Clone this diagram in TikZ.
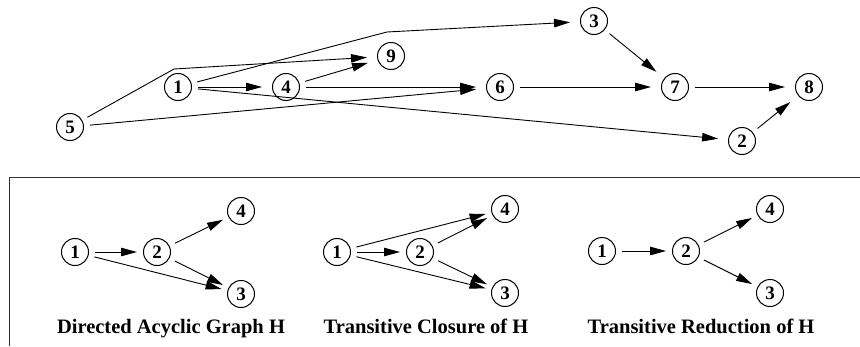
\documentclass[tikz,border=0pt]{standalone}
\usepackage{fontspec}
\setmainfont{Liberation Serif}
\usetikzlibrary{arrows.meta}
\begin{document}
\begin{tikzpicture}[x=1pt,y=-1pt,
  vtx/.style={circle,draw,line width=1pt,minimum size=27pt,inner sep=0pt,
              font=\bfseries\fontsize{19}{19}\selectfont},
  edge/.style={line width=0.9pt,-{Triangle[length=16pt,width=8.5pt]},
               shorten <=6pt,shorten >=10pt},
  sedge/.style={edge,shorten >=6pt},
  caption/.style={anchor=base,inner sep=0pt,font=\bfseries\fontsize{20.5}{20.5}\selectfont}]
\useasboundingbox (0,0) rectangle (860,346);

% upper graph
\node[vtx] (t5) at (70,127) {5};
\node[vtx] (t1) at (178,87) {1};
\node[vtx] (t4) at (286,87) {4};
\node[vtx] (t9) at (391,56) {9};
\node[vtx] (t6) at (500,87) {6};
\node[vtx] (t3) at (594,21) {3};
\node[vtx] (t7) at (675,87) {7};
\node[vtx] (t8) at (809,87) {8};
\node[vtx] (t2) at (742,141) {2};
\coordinate (b59) at (174,69);
\coordinate (b13) at (387,32);

\draw[edge] (t5) -- (b59) -- (t9);
\draw[edge] (t1) -- (b13) -- (t3);
\draw[edge] (t1) -- (t4);
\draw[edge] (t4) -- (t9);
\draw[edge] (t4) -- (t6);
\draw[edge] (t5) -- (t6);
\draw[edge] (t1) -- (t2);
\draw[edge] (t6) -- (t7);
\draw[edge] (t3) -- (t7);
\draw[edge] (t7) -- (t8);
\draw[edge] (t2) -- (t8);

% frame of the lower panel
\draw[line width=0.8pt,draw=black!80] (9,346) -- (9,177) -- (860,177);

% directed acyclic graph H
\node[vtx] (a1) at (75,252) {1};
\node[vtx] (a2) at (157,252) {2};
\node[vtx] (a4) at (241,211) {4};
\node[vtx] (a3) at (241,294) {3};
\draw[sedge] (a1) -- (a2);
\draw[sedge] (a2) -- (a4);
\draw[sedge] (a2) -- (a3);
\draw[sedge] (a1) -- (a3);
\node[caption] (ca) at (171,333) {Directed Acyclic Graph H};

% transitive closure of H
\node[vtx] (c1) at (337,252) {1};
\node[vtx] (c2) at (420,252) {2};
\node[vtx] (c4) at (505,209) {4};
\node[vtx] (c3) at (505,293) {3};
\draw[sedge] (c1) -- (c2);
\draw[sedge] (c1) -- (c4);
\draw[sedge] (c1) -- (c3);
\draw[sedge] (c2) -- (c4);
\draw[sedge] (c2) -- (c3);
\node[caption] (cc) at (426,333) {Transitive Closure of H};

% transitive reduction of H
\node[vtx] (r1) at (602,251) {1};
\node[vtx] (r2) at (686,251) {2};
\node[vtx] (r4) at (770,209) {4};
\node[vtx] (r3) at (770,293) {3};
\draw[sedge] (r1) -- (r2);
\draw[sedge] (r2) -- (r4);
\draw[sedge] (r2) -- (r3);
\node[caption] (cr) at (701,333) {Transitive Reduction of H};
\end{tikzpicture}
\end{document}
